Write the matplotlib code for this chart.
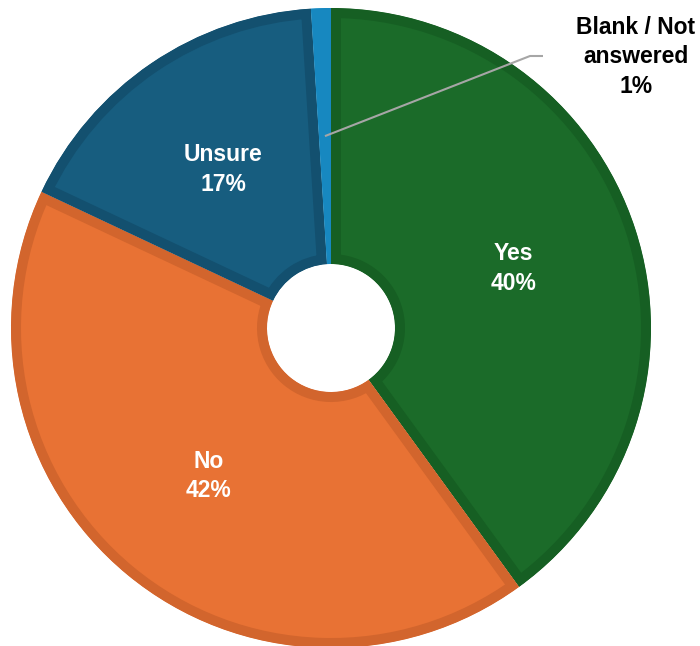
import matplotlib.pyplot as plt
from matplotlib.patches import Wedge
import numpy as np

labels = ["Yes", "No", "Unsure", "Blank / Not\nanswered"]
values = [40, 42, 17, 1]
fills = ["#1b6b29", "#e87234", "#175d7f", "#1b9cd6"]
edges = ["#165f23", "#d2652d", "#13506f", "#1788c0"]

plt.rcParams['font.family'] = ['Liberation Sans', 'DejaVu Sans']

W, H = 700, 646
R = 320.0
cx, cy = 331.0, 328.0

fig = plt.figure(figsize=(W / 100, H / 100), dpi=100)
ax = fig.add_axes([0, 0, 1, 1])
ax.set_xlim(-cx / R, (W - cx) / R)
ax.set_ylim(-(H - cy) / R, cy / R)
ax.axis("off")

total = sum(values)
start = 90.0
for lab, v, fc, ec in zip(labels, values, fills, edges):
    sweep = 360.0 * v / total
    t1, t2 = start - sweep, start
    w = Wedge((0, 0), 1.0, t1, t2, width=0.8, facecolor=fc,
              edgecolor=ec, linewidth=14.4, joinstyle="miter")
    ax.add_patch(w)
    # keep only the inner half of the stroke
    w.set_clip_path(w)

    mid = np.deg2rad((t1 + t2) / 2)
    pct = f"{v / total * 100:.0f}%"
    if v / total > 0.05:
        ax.text(0.6 * np.cos(mid), 0.6 * np.sin(mid), f"{lab}\n{pct}",
                ha="center", va="center", color="white", fontsize=16.5,
                fontweight="bold", linespacing=1.38)
    else:
        # small slice: label outside with a leader line
        px, py = 0.6 * np.cos(mid), 0.6 * np.sin(mid)
        lx, ly = (530 - cx) / R, (cy - 56) / R
        ex = (543 - cx) / R
        ax.plot([px, lx, ex], [py, ly, ly], color="#a6a6a6", lw=1.5,
                solid_capstyle="butt")
        ax.text((636 - cx) / R, (cy - 57) / R, f"{lab}\n{pct}",
                ha="center", va="center", color="black", fontsize=16.5,
                fontweight="bold", linespacing=1.38)
    start = t1

fig.savefig("out.png", dpi=100, facecolor="white")
